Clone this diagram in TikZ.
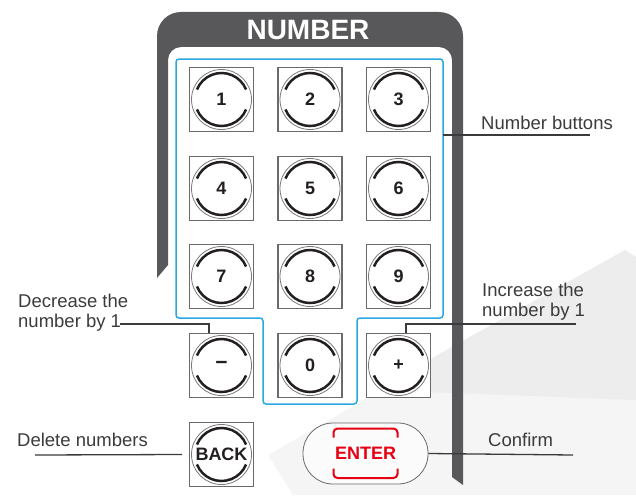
\documentclass[tikz,border=0pt]{standalone}
\usepackage{fontspec}
\setmainfont{Liberation Sans}
\definecolor{framegray}{HTML}{58585A}
\definecolor{ink}{HTML}{231F20}
\definecolor{labelc}{HTML}{3B3B3B}
\definecolor{btngray}{HTML}{6A6A6A}
\definecolor{ringgray}{HTML}{7A7A7A}
\definecolor{blueline}{HTML}{29A9E1}
\definecolor{enterred}{HTML}{E60012}
\definecolor{bgA}{HTML}{F5F5F5}
\definecolor{bgB}{HTML}{EDEDED}
\begin{document}
\begin{tikzpicture}[x=1pt,y=-1pt,
  btn/.style={draw=btngray, line width=1.5pt, fill=white, minimum size=64pt, inner sep=0pt,
    text=ink, font=\bfseries\fontsize{18}{18}\selectfont,
    path picture={
      \coordinate (pc) at (path picture bounding box.center);
      \draw[ringgray, line width=0.8pt] (pc) circle (30pt);
      \draw[ink, line width=2.5pt] ([shift={(22:26.5pt)}]pc) arc[start angle=22, end angle=158, radius=26.5pt];
      \draw[ink, line width=2.5pt] ([shift={(202:26.5pt)}]pc) arc[start angle=202, end angle=338, radius=26.5pt];
    }},
  lab/.style={text=labelc, font=\fontsize{18.5}{20}\selectfont, inner sep=0pt, anchor=base west, align=left},
  conn/.style={draw=labelc, line width=1.3pt}
]
\useasboundingbox (0,0) rectangle (636,495);
% background facets
\fill[bgA] (625,250) -- (636,257) -- (636,495) -- (293,495) -- (268,455) -- cycle;
\fill[bgB] (625,250) -- (636,257) -- (636,400) -- (375,390) -- cycle;
% remote frame
\fill[framegray] (157,278) -- (157,36) arc[start angle=180,end angle=90,radius=24pt]
  -- (439,12) arc[start angle=90,end angle=0,radius=24pt]
  -- (463,485) -- (452,477) -- (452,60) arc[start angle=0,end angle=90,radius=13pt]
  -- (181,47) arc[start angle=90,end angle=180,radius=13pt]
  -- (168,265) -- cycle;
\node[text=white, font=\bfseries\fontsize{28}{28}\selectfont, inner sep=0pt] (hdr) at (308,30) {NUMBER};
% blue outline of number group
\draw[blueline, line width=1.5pt, rounded corners=3pt]
  (176,59) -- (443,59) -- (443,318) -- (357,318) -- (357,404) -- (263,404) -- (263,318) -- (176,318) -- cycle;
\coordinate (bluer) at (443,135);
% buttons
\node[btn] (b1) at (221.5,99.5) {1};
\node[btn] (b2) at (310,99.5) {2};
\node[btn] (b3) at (398.5,99.5) {3};
\node[btn] (b4) at (221.5,188.5) {4};
\node[btn] (b5) at (310,188.5) {5};
\node[btn] (b6) at (398.5,188.5) {6};
\node[btn] (b7) at (221.5,276.5) {7};
\node[btn] (b8) at (310,276.5) {8};
\node[btn] (b9) at (398.5,276.5) {9};
\node[btn, font=\bfseries\fontsize{21}{21}\selectfont] (bminus) at (221.5,365.5) {−};
\node[btn] (b0) at (310,365.5) {0};
\node[btn] (bplus) at (398.5,365.5) {+};
\node[btn, font=\bfseries\fontsize{18}{18}\selectfont] (bback) at (221.5,454.5) {BACK};
% enter button
\node[draw=btngray, line width=0.8pt, fill=white, fill opacity=0.6, text opacity=1, rounded corners=30pt,
  minimum width=125pt, minimum height=61pt, inner sep=0pt, text=enterred,
  font=\bfseries\fontsize{18}{18}\selectfont] (enter) at (365.5,453.5) {ENTER};
\draw[enterred, line width=2pt, rounded corners=4pt]
  ([shift={(-32,-16)}]enter.center) |- ([shift={(32,-25)}]enter.center) -- ([shift={(32,-16)}]enter.center);
\draw[enterred, line width=2pt, rounded corners=4pt]
  ([shift={(-32,15)}]enter.center) |- ([shift={(32,24.5)}]enter.center) -- ([shift={(32,15)}]enter.center);
% labels
\node[lab] (lnum) at (481,129) {Number buttons};
\node[lab] (linc) at (482,316) {Increase the\\number by 1};
\node[lab] (ldec) at (18,327) {Decrease the\\number by 1};
\node[lab] (ldel) at (17,446) {Delete numbers};
\node[lab] (lconf) at (488,446) {Confirm};
% connector end points
\coordinate (numend) at (590,135);
\coordinate (incend) at (576,324);
\coordinate (decstart) at (120,324);
\coordinate (delstart) at (35,455);
\coordinate (confend) at (573,455);
% connectors
\draw[conn] (bluer) -- (numend);
\draw[conn] ([xshift=7.5pt]bplus.north) |- (incend);
\draw[conn] ([xshift=-12.5pt]bminus.north) |- (decstart);
\draw[conn] (delstart) -- ([xshift=-7pt]bback.west);
\draw[conn] (enter.east) -- (confend);
\end{tikzpicture}
\end{document}
